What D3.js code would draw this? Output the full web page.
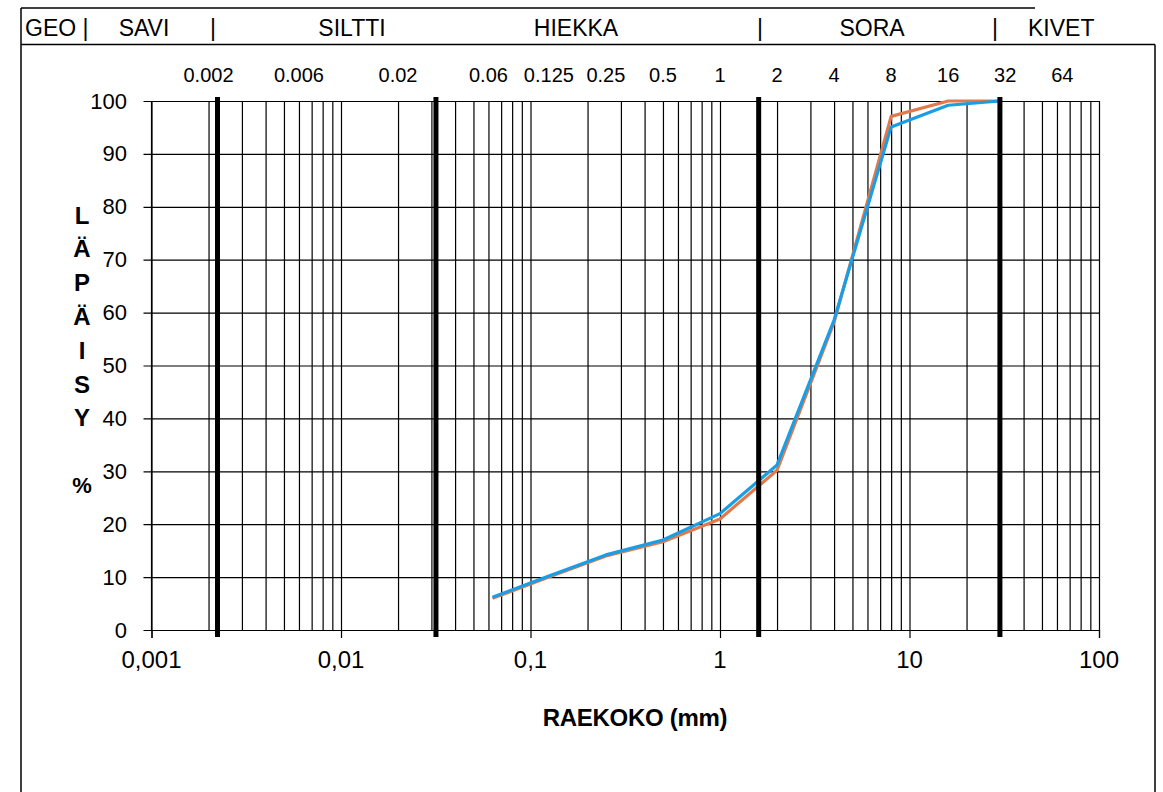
<!DOCTYPE html>
<html>
<head>
<meta charset="utf-8">
<script src="https://cdn.jsdelivr.net/npm/d3@7"></script>
<style>
  html, body { margin: 0; padding: 0; background: #fff; }
  svg { display: block; }
</style>
</head>
<body>
<svg id="chart" width="1163" height="792"></svg>
<script>
// ---- data ----
const sieveSizes = [0.063, 0.125, 0.25, 0.5, 1, 2, 4, 8, 16, 30];
const passingBlue = [6.2, 10.2, 14.2, 17.0, 22.0, 31.2, 58.6, 95.1, 99.2, 100];
const passingOrange = [6.0, 10.0, 14.0, 16.7, 21.0, 30.2, 58.2, 97.1, 100, 100];

const boundaryValues = [0.00223, 0.0317, 1.6, 30.0];
const topTickValues = [0.002, 0.006, 0.02, 0.06, 0.125, 0.25, 0.5, 1, 2, 4, 8, 16, 32, 64];
const topTickLabels = ["0.002", "0.006", "0.02", "0.06", "0.125", "0.25", "0.5", "1", "2", "4", "8", "16", "32", "64"];
const bottomTickValues = [0.001, 0.01, 0.1, 1, 10, 100];
const bottomTickLabels = ["0,001", "0,01", "0,1", "1", "10", "100"];
const yTickValues = [0, 10, 20, 30, 40, 50, 60, 70, 80, 90, 100];

const headerLabels = ["GEO |", "SAVI", "|", "SILTTI", "HIEKKA", "|", "SORA", "|", "KIVET"];
const yTitleLetters = ["L", "Ä", "P", "Ä", "I", "S", "Y"];

// ---- layout ----
const svg = d3.select("#chart");
const L = 151.5, R = 1099, T = 101, B = 630;
const x = d3.scaleLog().domain([0.001, 100]).range([L, R]);
const y = d3.scaleLinear().domain([0, 100]).range([B, T]);

// frame
const frame = svg.append("g").attr("stroke", "#000").attr("stroke-width", 1.5).attr("fill", "none");
frame.append("line").attr("x1", 21).attr("y1", 8).attr("x2", 21).attr("y2", 800);
frame.append("line").attr("x1", 21).attr("y1", 8).attr("x2", 1035).attr("y2", 8);
frame.append("line").attr("x1", 21).attr("y1", 44.5).attr("x2", 1155).attr("y2", 44.5);
frame.append("line").attr("x1", 1155).attr("y1", 44.5).attr("x2", 1155).attr("y2", 800);

// header labels
const headerX = [25, 144, 213, 352, 576, 760, 872, 995, 1028];
const headerAnchor = ["start", "middle", "middle", "middle", "middle", "middle", "middle", "middle", "start"];
svg.append("g").selectAll("text").data(headerLabels).join("text")
  .attr("x", (d, i) => headerX[i]).attr("y", 28)
  .attr("text-anchor", (d, i) => headerAnchor[i])
  .attr("dominant-baseline", "central")
  .attr("font-family", "'Liberation Sans Narrow', 'Arial Narrow', sans-serif")
  .attr("font-size", 23)
  .attr("fill", "#000")
  .text(d => d);

// minor vertical grid
const minorTicks = [];
for (let e = -3; e <= 1; e++) for (let m = 1; m <= 9; m++) minorTicks.push(m * Math.pow(10, e));
minorTicks.push(100);

const gridV = svg.append("g").attr("transform", `translate(0,${B})`)
  .call(d3.axisBottom(x).tickValues(minorTicks).tickSize(-(B - T)).tickFormat(""));
gridV.select(".domain").remove();
gridV.selectAll("line").attr("stroke", "#000").attr("stroke-width", 1.2);

// decade ticks below axis
const decTicks = svg.append("g").attr("transform", `translate(0,${B})`)
  .call(d3.axisBottom(x).tickValues(bottomTickValues).tickSize(8).tickFormat(""));
decTicks.select(".domain").attr("stroke", "#000").attr("stroke-width", 1.2);
decTicks.selectAll("line").attr("stroke", "#000").attr("stroke-width", 1.2);

// horizontal grid + y axis
const gridH = svg.append("g").attr("transform", `translate(${R},0)`)
  .call(d3.axisLeft(y).tickValues(yTickValues).tickSize(R - L + 8).tickFormat(""));
gridH.select(".domain").remove();
gridH.selectAll("line").attr("stroke", "#000").attr("stroke-width", 1.2);

svg.append("line").attr("x1", L).attr("x2", L).attr("y1", T).attr("y2", B)
  .attr("stroke", "#000").attr("stroke-width", 1.2);

// y tick labels
svg.append("g").selectAll("text").data(yTickValues).join("text")
  .attr("x", 127).attr("y", d => y(d))
  .attr("text-anchor", "end").attr("dominant-baseline", "central")
  .attr("font-family", "'Liberation Sans', Arial, sans-serif")
  .attr("font-size", 22).attr("fill", "#000")
  .text(d => d);

// bottom tick labels
svg.append("g").selectAll("text").data(bottomTickValues).join("text")
  .attr("x", d => x(d)).attr("y", 659)
  .attr("text-anchor", "middle").attr("dominant-baseline", "central")
  .attr("font-family", "'Liberation Sans', Arial, sans-serif")
  .attr("font-size", 24).attr("fill", "#000")
  .text((d, i) => bottomTickLabels[i]);

// top size labels
svg.append("g").selectAll("text").data(topTickValues).join("text")
  .attr("x", d => x(d)).attr("y", 75)
  .attr("text-anchor", "middle").attr("dominant-baseline", "central")
  .attr("font-family", "'Liberation Sans', Arial, sans-serif")
  .attr("font-size", 20).attr("fill", "#000")
  .text((d, i) => topTickLabels[i]);

// x title
svg.append("text").attr("x", 635).attr("y", 717)
  .attr("text-anchor", "middle").attr("dominant-baseline", "central")
  .attr("font-family", "'Liberation Sans', Arial, sans-serif")
  .attr("font-weight", "bold").attr("font-size", 24).attr("letter-spacing", -0.3)
  .attr("fill", "#000").text("RAEKOKO (mm)");

// y title (stacked letters)
svg.append("g").selectAll("text").data(yTitleLetters).join("text")
  .attr("x", 82).attr("y", (d, i) => 215 + i * 33.8)
  .attr("text-anchor", "middle").attr("dominant-baseline", "central")
  .attr("font-family", "'Liberation Sans', Arial, sans-serif")
  .attr("font-weight", "bold").attr("font-size", 24).attr("fill", "#000")
  .text(d => d);
svg.append("text").attr("x", 82).attr("y", 485)
  .attr("text-anchor", "middle").attr("dominant-baseline", "central")
  .attr("font-family", "'Liberation Sans', Arial, sans-serif")
  .attr("font-weight", "bold").attr("font-size", 22).attr("fill", "#000")
  .text("%");

// curves
const line = d3.line().x(d => x(d[0])).y(d => y(d[1]));
svg.append("path").datum(sieveSizes.map((s, i) => [s, passingOrange[i]]))
  .attr("d", line).attr("fill", "none").attr("stroke", "#e07a4c").attr("stroke-width", 3.2)
  .attr("stroke-linejoin", "round");
svg.append("path").datum(sieveSizes.map((s, i) => [s, passingBlue[i]]))
  .attr("d", line).attr("fill", "none").attr("stroke", "#199ee6").attr("stroke-width", 3.2)
  .attr("stroke-linejoin", "round");

// thick boundary lines
svg.append("g").selectAll("line").data(boundaryValues).join("line")
  .attr("x1", d => x(d)).attr("x2", d => x(d))
  .attr("y1", T - 4).attr("y2", B + 7)
  .attr("stroke", "#000").attr("stroke-width", 5);
</script>
</body>
</html>
